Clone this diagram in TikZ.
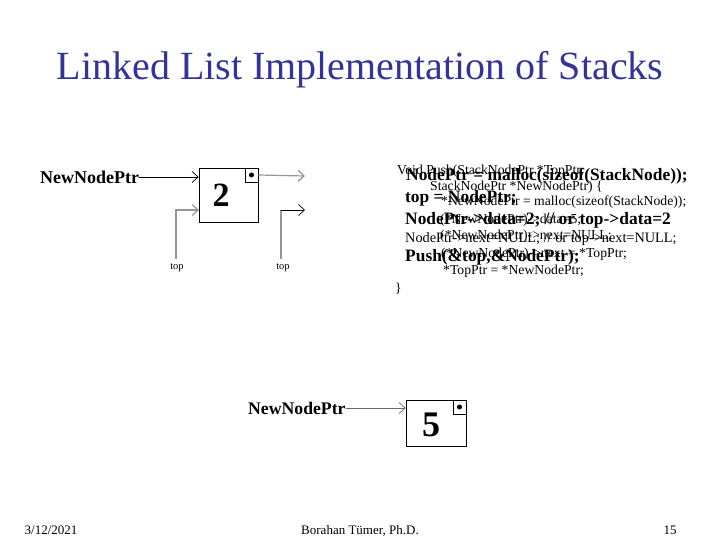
\documentclass[tikz,border=0pt]{standalone}
\usepackage{fontspec}
\setmainfont{Liberation Serif}
\usetikzlibrary{arrows.meta}
\definecolor{titleblue}{RGB}{51,51,153}
\definecolor{lgray}{RGB}{150,150,150}
\begin{document}
\begin{tikzpicture}[x=1pt,y=-1pt,
  txt/.style={inner sep=0pt, anchor=base west},
  bcode/.style={txt, font=\fontsize{17.4}{18}\selectfont\bfseries},
  pcode/.style={txt, font=\fontsize{13.7}{14}\selectfont},
  chev/.style={-{Straight Barb[length=6pt,width=11pt]}},
  cell/.style={draw, line width=0.8pt, inner sep=0pt},
  ptrcell/.style={draw, line width=0.8pt, inner sep=0pt, minimum width=13pt, minimum height=14pt, anchor=north east},
  dot/.style={circle, fill=black, inner sep=0pt, minimum size=5pt},
  lbl/.style={inner sep=0pt, font=\fontsize{18}{18}\selectfont\bfseries},
  toplbl/.style={inner sep=0pt, font=\fontsize{10.5}{10.5}\selectfont},
  foot/.style={inner sep=0pt, anchor=base, font=\fontsize{13}{13}\selectfont},
]
\useasboundingbox (0,0) rectangle (720,540);

% title
\node[inner sep=0pt, anchor=base, text=titleblue, font=\fontsize{40}{40}\selectfont] (title) at (360,80) {Linked List Implementation of Stacks};

% diagram 1
\node[cell, minimum width=59pt, minimum height=54pt] (box1) at (228.5,195) {};
\node[inner sep=0pt, font=\fontsize{34}{34}\selectfont\bfseries] (two) at (221,195) {2};
\node[ptrcell] (p1) at (box1.north east) {};
\node[dot] (d1) at (p1.center) {};
\node[lbl, anchor=west] (nnp1) at (40,177) {NewNodePtr};
\draw[chev, line width=0.7pt] (nnp1.east) -- (nnp1.east -| box1.west);
\coordinate (out1) at (305,176);
\draw[chev, lgray, line width=1.2pt] (p1.east) -- (out1);
\node[toplbl] (top1) at (177,268) {top};
\coordinate (in1) at (199,210);
\draw[chev, lgray, line width=1.2pt] (top1.north -| 176,0) ++(0,-5) |- (in1);
\node[toplbl] (top2) at (283,268) {top};
\coordinate (c2) at (281,210);
\coordinate (out2) at (305,210);
\draw[lgray, line width=1.2pt] (top1.north -| c2) ++(0,-5) -- (c2);
\draw[chev, line width=0.7pt] (c2) -- (out2);

% code: plain layer
\node[pcode] (l1) at (397,174.5) {Void Push(StackNodePtr *TopPtr,};
\node[pcode] (l2) at (430,190.5) {StackNodePtr *NewNodePtr) \{};
\node[pcode] (l3) at (441,206) {*NewNodePtr = malloc(sizeof(StackNode));};
\node[pcode] (l4) at (440,223) {(*NewNodePtr)->data=5;};
\node[pcode] (l5) at (440,240) {(*NewNodePtr)->next=NULL;};
\node[pcode] (l6) at (441,257.5) {(*NewNodePtr)->next = *TopPtr;};
\node[pcode] (l7) at (443,274.5) {*TopPtr = *NewNodePtr;};
\node[pcode] (l8) at (395,292.5) {\}};

% code: bold layer
\node[bcode] (b1) at (406,181) {NodePtr = malloc(sizeof(StackNode));};
\node[bcode] (b2) at (405,203) {top = NodePtr;};
\node[bcode] (b3) at (405,225) {NodePtr->data=2; // or top->data=2};
\node[txt, font=\fontsize{14.3}{15}\selectfont] (b4) at (405,242) {NodePtr->next=NULL; // or top->next=NULL;};
\node[bcode] (b5) at (405,261) {Push(\&top,\&NodePtr);};

% diagram 2
\node[cell, minimum width=60pt, minimum height=46pt] (box2) at (436,423) {};
\node[inner sep=0pt, font=\fontsize{36}{36}\selectfont\bfseries] (five) at (431,425) {5};
\node[ptrcell] (p2) at (box2.north east) {};
\node[dot] (d2) at (p2.center) {};
\node[lbl, anchor=west, font=\fontsize{17.7}{18}\selectfont\bfseries] (nnp2) at (248,408) {NewNodePtr};
\draw[chev, lgray!70!black, line width=0.7pt] (nnp2.east) -- (nnp2.east -| box2.west);

% footer
\node[foot] (date) at (51,534) {3/12/2021};
\node[foot] (author) at (360,534) {Borahan Tümer, Ph.D.};
\node[foot] (page) at (670,534) {15};
\end{tikzpicture}
\end{document}
